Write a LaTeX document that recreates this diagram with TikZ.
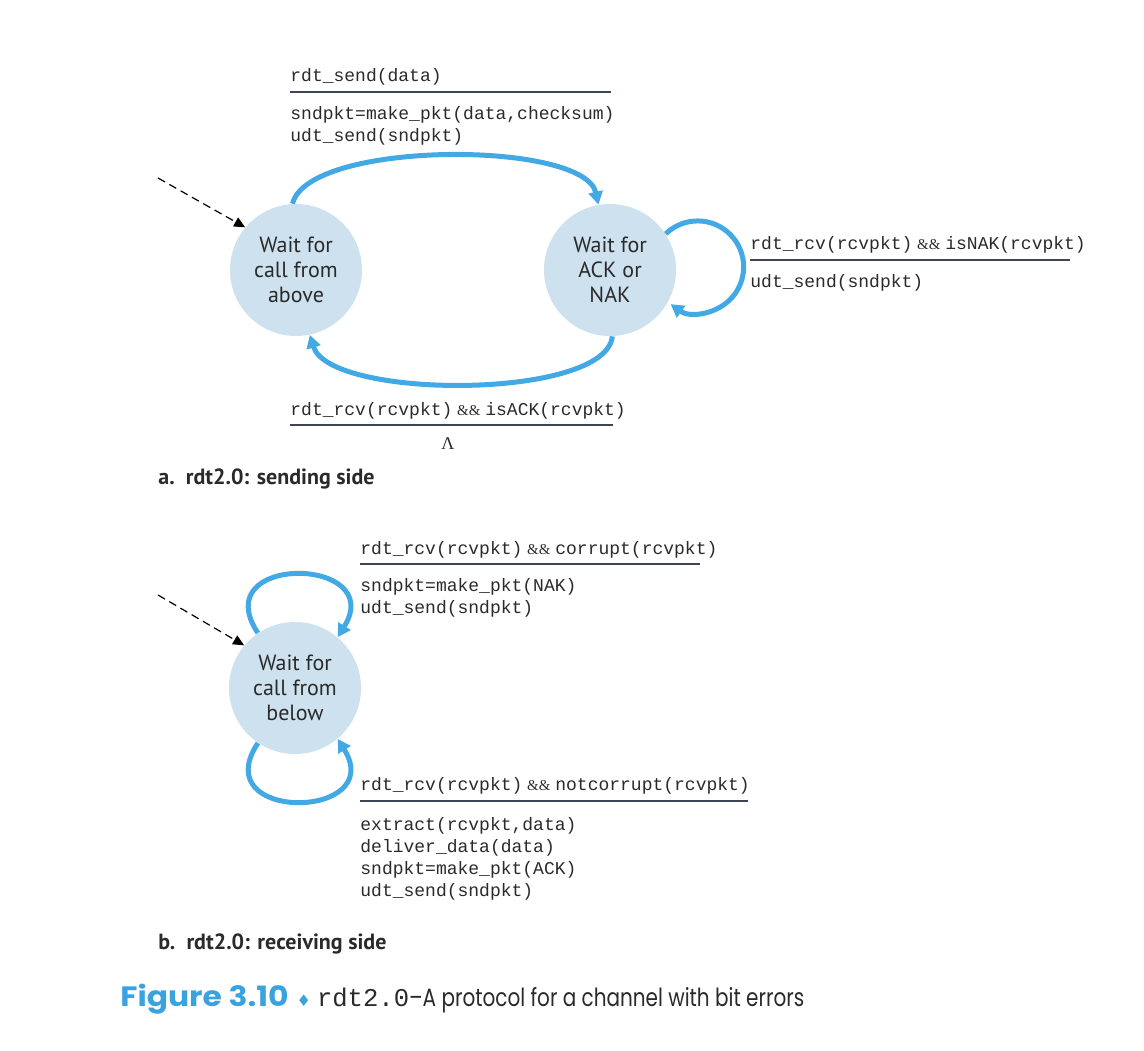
\documentclass[tikz,border=0pt]{standalone}
\usepackage{fontspec}
\setmainfont{PT Sans}
\setmonofont{Liberation Mono}
\newfontfamily\capfont{Poppins}
\newfontfamily\seriffont{Liberation Serif}
\newfontfamily\symfont{DejaVu Sans}
\usetikzlibrary{arrows.meta}
\definecolor{flow}{HTML}{42A9E5}
\definecolor{statefill}{HTML}{CDE1EE}
\definecolor{capblue}{HTML}{3AA2DC}
\definecolor{rulecol}{HTML}{3D4455}
\definecolor{ink}{HTML}{2A2A2A}
\newcommand{\andand}{\hspace{2.4pt}{\seriffont\fontsize{7.5}{8}\selectfont\&\&}\hspace{2.4pt}}
\begin{document}
\begin{tikzpicture}[x=0.5pt,y=-0.5pt,
  state/.style={circle, fill=statefill, minimum size=66pt, inner sep=0pt,
    align=center, text=ink, font=\fontsize{11}{12.6}\selectfont},
  flowline/.style={draw=flow, line width=2.5pt, -{Triangle[length=6.5pt,width=7pt]}},
  initline/.style={draw=black, line width=0.6pt, dash pattern=on 4pt off 2.5pt,
    -{Triangle[length=5.5pt,width=5pt]}},
  code/.style={font=\fontsize{9}{11}\selectfont\ttfamily, inner sep=0pt,
    align=left, text=ink, anchor=base west},
  rulebar/.style={draw=rulecol, line width=1pt},
  sublabel/.style={font=\fontsize{11}{13}\selectfont\bfseries, text=ink,
    inner sep=0pt, anchor=base west}]
\useasboundingbox (0,0) rectangle (1144,1050);

% ---------- sending side ----------
\node[state] (A) at (296,270) {Wait for\\call from\\above};
\node[state] (ACK) at (610,270) {Wait for\\ACK or\\NAK};

\coordinate (initA) at (158,178);
\draw[initline] (initA) -- (A.140);

\draw[flowline] (A.93) .. controls (308,140) and (584,140) .. (ACK.100);
\draw[flowline] (ACK.-88) .. controls (606,400) and (330,400) .. (A.-78);
\draw[flowline] (ACK.33) arc[start angle=-134, end angle=126, radius=46];

% multi-line blocks are placed by the baseline of their last line
\node[code] (sendev) at (290,81) {rdt\_send(data)};
\draw[rulebar] (290,92) -- (611,92);
\node[code] (sendact) at (290,141) {sndpkt=make\_pkt(data,checksum)\\udt\_send(sndpkt)};

\node[code] (nakev) at (750,249) {rdt\_rcv(rcvpkt)\andand isNAK(rcvpkt)};
\draw[rulebar] (750,260) -- (1070,260);
\node[code] (nakact) at (750,287) {udt\_send(sndpkt)};

\node[code] (ackev) at (290,415) {rdt\_rcv(rcvpkt)\andand isACK(rcvpkt)};
\draw[rulebar] (290,425) -- (613,425);
\node[inner sep=0pt, anchor=base, font=\seriffont\fontsize{9}{10}\selectfont, text=ink] (lam) at (448,449) {Λ};

\node[sublabel] (capa) at (158,484) {a.\ \ rdt2.0: sending side};

% ---------- receiving side ----------
\node[state] (B) at (295,688) {Wait for\\call from\\below};

\coordinate (initB) at (158,595);
\draw[initline] (initB) -- (B.140);

\draw[flowline] (B.124) .. controls (205,553) and (388,556) .. (B.50);
\draw[flowline] (B.-124) .. controls (205,823) and (388,820) .. (B.-50);

\node[code] (corev) at (360,554) {rdt\_rcv(rcvpkt)\andand corrupt(rcvpkt)};
\draw[rulebar] (360,564) -- (700,564);
\node[code] (coract) at (360,613) {sndpkt=make\_pkt(NAK)\\udt\_send(sndpkt)};

\node[code] (okev) at (360,790) {rdt\_rcv(rcvpkt)\andand notcorrupt(rcvpkt)};
\draw[rulebar] (360,801) -- (748,801);
\node[code] (okact) at (360,896) {extract(rcvpkt,data)\\deliver\_data(data)\\sndpkt=make\_pkt(ACK)\\udt\_send(sndpkt)};

\node[sublabel] (capb) at (158,949) {b.\ \ rdt2.0: receiving side};

% ---------- figure caption ----------
\node[inner sep=0pt, anchor=base west, text=ink] (figcap) at (120,1006)
  {\scalebox{1.12}[1]{\capfont\bfseries\fontsize{14}{16}\selectfont\color{capblue}Figure 3.10}\hspace{4pt}%
   {\symfont\fontsize{8}{10}\selectfont\color{capblue}♦}\hspace{3pt}%
   {\ttfamily\fontsize{12.8}{15}\selectfont rdt2.0}%
   \scalebox{0.8}[1]{\capfont\fontsize{12.5}{15}\selectfont –A protocol for a channel with bit errors}};
\end{tikzpicture}
\end{document}
